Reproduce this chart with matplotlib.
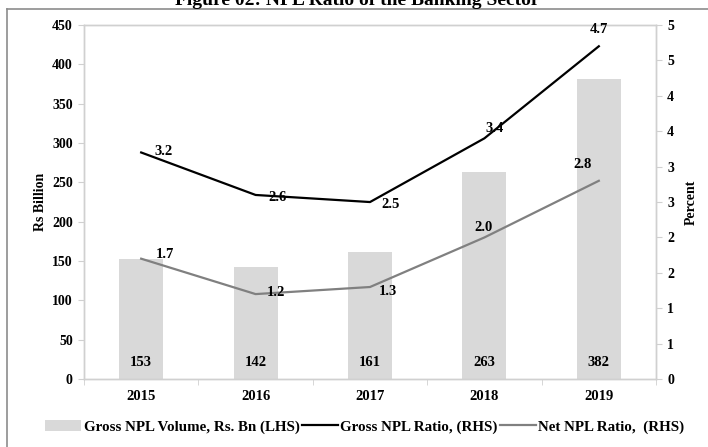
import matplotlib.pyplot as plt
from matplotlib.lines import Line2D
from matplotlib.patches import Patch

# 銀行業不良貸款數據
years = ["2015", "2016", "2017", "2018", "2019"]
gross_npl_volume = [153, 142, 161, 263, 382]  # Rs. Bn (LHS)
gross_npl_ratio = [3.2, 2.6, 2.5, 3.4, 4.7]  # percent (RHS)
net_npl_ratio = [1.7, 1.2, 1.3, 2.0, 2.8]  # percent (RHS)

left_ticks = [0, 50, 100, 150, 200, 250, 300, 350, 400, 450]
right_ticks = [0, 0.5, 1, 1.5, 2, 2.5, 3, 3.5, 4, 4.5, 5]
right_tick_labels = ["0", "1", "1", "2", "2", "3", "3", "4", "4", "5", "5"]

# 數據標籤的偏移 (points)
gross_offsets = [(16, 1), (16, -2), (15, -2), (7, 7), (0, 12)]
net_offsets = [(17, 3), (15, 1), (13, -3), (-1, 7), (-12, 12)]

plt.rcParams["font.family"] = ["Liberation Serif", "DejaVu Serif"]
plt.rcParams["font.weight"] = "bold"

SPINE = "#d0d0d0"
BAR = "#d9d9d9"
GREY_LINE = "#808080"

fig = plt.figure(figsize=(7.08, 4.47), dpi=100)
ax = fig.add_axes([0.1186, 0.152, 0.808, 0.792])
ax2 = ax.twinx()

x = list(range(len(years)))

# 柱狀圖 (左軸)
ax.bar(x, gross_npl_volume, width=0.385, color=BAR, zorder=1)
for xi, v in zip(x, gross_npl_volume):
    ax.annotate(str(v), (xi, 0), xytext=(0, 12), textcoords="offset points",
                ha="center", va="center", fontsize=10.5, fontweight="bold")

ax.set_xlim(-0.5, len(years) - 0.5)
ax.set_ylim(0, 450)
ax.set_yticks(left_ticks)
ax.set_ylabel("Rs Billion", fontsize=10, fontweight="bold", labelpad=4)

# 折線圖 (右軸)
ax2.plot(x, gross_npl_ratio, color="black", lw=1.6, zorder=3)
ax2.plot(x, net_npl_ratio, color=GREY_LINE, lw=1.6, zorder=3)
for xi, v, off in zip(x, gross_npl_ratio, gross_offsets):
    ax2.annotate(f"{v:.1f}", (xi, v), xytext=off, textcoords="offset points",
                 ha="center", va="center", fontsize=10.5, fontweight="bold")
for xi, v, off in zip(x, net_npl_ratio, net_offsets):
    ax2.annotate(f"{v:.1f}", (xi, v), xytext=off, textcoords="offset points",
                 ha="center", va="center", fontsize=10.5, fontweight="bold")

ax2.set_ylim(0, 5)
ax2.set_yticks(right_ticks)
ax2.set_yticklabels(right_tick_labels)
ax2.set_ylabel("Percent", fontsize=10, fontweight="bold", labelpad=8)

# X 軸: 類別之間的刻度
ax.set_xticks(x)
ax.set_xticklabels(years, fontsize=10.5, fontweight="bold")
ax.set_xticks([i - 0.5 for i in range(len(years) + 1)], minor=True)
ax.tick_params(axis="x", which="major", length=0, pad=8)
ax.tick_params(axis="x", which="minor", length=4, color=SPINE, direction="out")
ax.tick_params(axis="y", labelsize=10, length=4, color=SPINE, pad=4)
ax2.tick_params(axis="y", labelsize=10, length=4, color=SPINE, pad=4)

for a in (ax, ax2):
    for side in a.spines:
        a.spines[side].set_color(SPINE)
        a.spines[side].set_linewidth(1.0)

# 圖例
handles = [
    Patch(facecolor=BAR, edgecolor="none"),
    Line2D([0], [0], color="black", lw=1.6),
    Line2D([0], [0], color=GREY_LINE, lw=1.6),
]
labels = ["Gross NPL Volume, Rs. Bn (LHS)", "Gross NPL Ratio, (RHS)",
          "Net NPL Ratio,  (RHS)"]
fig.legend(handles, labels, loc="center", bbox_to_anchor=(0.515, 0.045),
           ncol=3, frameon=False, handlelength=2.4,
           handletextpad=0.15, columnspacing=0.15,
           prop={"family": "Liberation Serif", "weight": "bold", "size": 10.8})

# 標題與外框
fig.text(0.505, 1 - 5 / 447, "Figure 02: NPL Ratio of the Banking Sector",
         ha="center", va="baseline", fontsize=14, fontweight="bold")
fig.add_artist(Line2D([7 / 708, 1], [1 - 9 / 447, 1 - 9 / 447],
                      transform=fig.transFigure, color="#8c8c8c", lw=1.2))
fig.add_artist(Line2D([7 / 708, 7 / 708], [0, 1 - 9 / 447],
                      transform=fig.transFigure, color="#8c8c8c", lw=1.2))

fig.savefig("out.png", dpi=100)
